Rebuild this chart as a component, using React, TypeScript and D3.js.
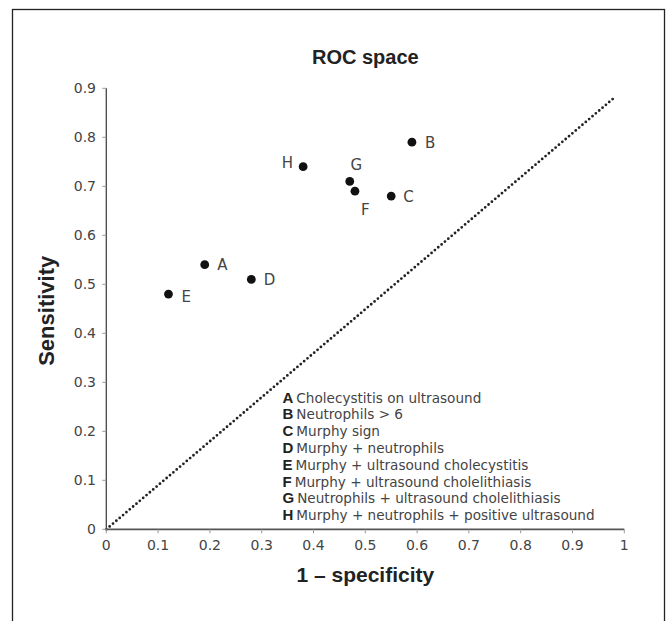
import React from "react";
import { scaleLinear, line, range } from "d3";

// ROC points
const labels = ["A", "B", "C", "D", "E", "F", "G", "H"];
const fpr = [0.19, 0.59, 0.55, 0.28, 0.12, 0.48, 0.47, 0.38];
const tpr = [0.54, 0.79, 0.68, 0.51, 0.48, 0.69, 0.71, 0.74];
const descriptions = [
  "Cholecystitis on ultrasound",
  "Neutrophils > 6",
  "Murphy sign",
  "Murphy + neutrophils",
  "Murphy + ultrasound cholecystitis",
  "Murphy + ultrasound cholelithiasis",
  "Neutrophils + ultrasound cholelithiasis",
  "Murphy + neutrophils + positive ultrasound",
];
const xTicks = range(0, 11).map((d) => d / 10);
const yTicks = range(0, 10).map((d) => d / 10);
const diagonal: [number, number][] = [
  [0, 0],
  [0.982, 0.882],
];

// where each point's letter sits relative to its dot
const labelPos: Record<string, { dx: number; dy: number; anchor: string }> = {
  A: { dx: 12.5, dy: 0, anchor: "start" },
  B: { dx: 13, dy: 0, anchor: "start" },
  C: { dx: 12, dy: 0, anchor: "start" },
  D: { dx: 12.5, dy: 0, anchor: "start" },
  E: { dx: 13, dy: 2, anchor: "start" },
  F: { dx: 10.5, dy: 18, anchor: "middle" },
  G: { dx: 6.5, dy: -17, anchor: "middle" },
  H: { dx: -10, dy: -4, anchor: "end" },
};

const regular = "'DejaVu Sans', sans-serif";
const bold = "'Liberation Sans', Arial, sans-serif";
const textColor = "#444";

export default function App() {
  const width = 669;
  const height = 621;
  const x = scaleLinear().domain([0, 1]).range([106.3, 624.3]);
  const y = scaleLinear().domain([0, 0.9]).range([529.3, 88.3]);
  const cx = (x(0) + x(1)) / 2;
  const cy = (y(0) + y(0.9)) / 2;

  const diagPath = line<[number, number]>()
    .x((d) => x(d[0]))
    .y((d) => y(d[1]))(diagonal);

  const legendX = 282.5;
  const legendY = 402.5;
  const legendStep = 16.8;

  return (
    <svg
      width={width}
      height={height}
      style={{ position: "absolute", left: 0, top: 0, background: "#fff" }}
    >
      <rect
        x={12.5}
        y={9.5}
        width={652}
        height={640}
        fill="none"
        stroke="#222"
        strokeWidth={1.3}
      />

      <text
        x={cx}
        y={64}
        textAnchor="middle"
        fontFamily={bold}
        fontWeight="bold"
        fontSize={20}
        fill="#222"
      >
        ROC space
      </text>

      {/* diagonal chance line */}
      <path
        d={diagPath ?? ""}
        fill="none"
        stroke="#222"
        strokeWidth={2.8}
        strokeLinecap="round"
        strokeDasharray="0 4.4"
      />

      {/* y axis */}
      <line x1={x(0)} x2={x(0)} y1={y(0)} y2={y(0.9)} stroke="#444" strokeWidth={1.3} />
      {yTicks.map((t) => (
        <g key={"y" + t}>
          <line x1={x(0) - 4} x2={x(0)} y1={y(t)} y2={y(t)} stroke="#999" strokeWidth={1} />
          <text
            x={96}
            y={y(t) + 5}
            textAnchor="end"
            fontFamily={regular}
            fontSize={14}
            fill={textColor}
          >
            {String(t)}
          </text>
        </g>
      ))}

      {/* x axis */}
      <line x1={x(0)} x2={x(1)} y1={y(0)} y2={y(0)} stroke="#555" strokeWidth={1.8} />
      {xTicks.map((t) => (
        <g key={"x" + t}>
          <line x1={x(t)} x2={x(t)} y1={y(0)} y2={y(0) + 4} stroke="#999" strokeWidth={1} />
          <text
            x={x(t)}
            y={550}
            textAnchor="middle"
            fontFamily={regular}
            fontSize={14}
            fill={textColor}
          >
            {String(t)}
          </text>
        </g>
      ))}

      <text
        x={cx}
        y={581.5}
        textAnchor="middle"
        fontFamily={bold}
        fontWeight="bold"
        fontSize={21}
        fill="#222"
      >
        1 – specificity
      </text>
      <text
        transform={`translate(53.5,${cy + 2}) rotate(-90)`}
        textAnchor="middle"
        fontFamily={bold}
        fontWeight="bold"
        fontSize={22}
        fill="#222"
      >
        Sensitivity
      </text>

      {/* points */}
      {labels.map((l, i) => {
        const p = labelPos[l];
        return (
          <g key={l}>
            <circle cx={x(fpr[i])} cy={y(tpr[i])} r={4.4} fill="#111" />
            <text
              x={x(fpr[i]) + p.dx}
              y={y(tpr[i]) + p.dy + 5.5}
              textAnchor={p.anchor}
              fontFamily={regular}
              fontSize={15}
              fill={textColor}
            >
              {l}
            </text>
          </g>
        );
      })}

      {/* legend */}
      {labels.map((l, i) => (
        <text
          key={"leg" + l}
          x={legendX}
          y={legendY + i * legendStep}
          fontFamily={regular}
          fontSize={13.6}
          fill={textColor}
        >
          <tspan fontFamily={bold} fontWeight="bold" fill="#222" fontSize={15}>
            {l}
          </tspan>
          <tspan dx={3}>{descriptions[i]}</tspan>
        </text>
      ))}
    </svg>
  );
}
